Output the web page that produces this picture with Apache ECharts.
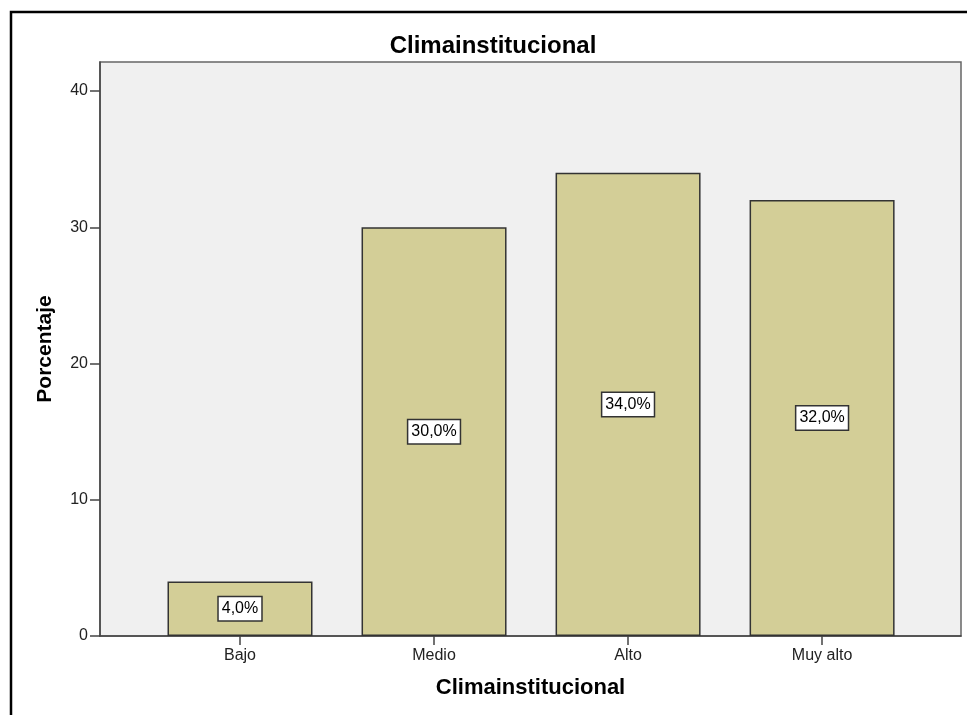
<!DOCTYPE html>
<html>
<head>
<meta charset="utf-8">
<script src="https://cdn.jsdelivr.net/npm/echarts@6/dist/echarts.min.js"></script>
<style>
html,body{margin:0;padding:0;background:#fff;}
#chart{width:967px;height:715px;}
</style>
</head>
<body>
<div id="chart"></div>
<script>
const chartTitle = 'Climainstitucional';
const xAxisTitle = 'Climainstitucional';
const yAxisTitle = 'Porcentaje';
const categories = ['Bajo', 'Medio', 'Alto', 'Muy alto'];
const percentages = [4.0, 30.0, 34.0, 32.0];
const yTicks = [0, 10, 20, 30, 40];

const positions = categories.map((c, i) => i);
const fontFamily = '"Liberation Sans", Arial, sans-serif';

const chart = echarts.init(document.getElementById('chart'), null, {renderer: 'canvas'});
chart.setOption({
  animation: false,
  backgroundColor: '#ffffff',
  title: {
    text: chartTitle,
    left: 488,
    textAlign: 'center',
    top: 29,
    textStyle: {fontFamily, fontSize: 24, fontWeight: 'bold', color: '#000'}
  },
  graphic: [{
    type: 'rect',
    shape: {x: 11, y: 12, width: 1200, height: 1200},
    style: {fill: 'none', stroke: '#000', lineWidth: 2.5},
    silent: true
  }],
  grid: {
    left: 100, top: 62, right: 6, bottom: 79,
    show: true,
    backgroundColor: '#f0f0f0',
    borderColor: '#666',
    borderWidth: 1.5
  },
  xAxis: {
    type: 'value',
    min: -0.7216,
    max: 3.716,
    splitLine: {show: false},
    axisLine: {show: true, onZero: false, lineStyle: {color: '#444', width: 1.5}},
    axisTick: {show: true, length: 9, customValues: positions, lineStyle: {color: '#444', width: 1.5}},
    axisLabel: {
      customValues: positions,
      margin: 12,
      fontFamily, fontSize: 16, color: '#222',
      formatter: v => categories[Math.round(v)] || ''
    },
    name: xAxisTitle,
    nameLocation: 'middle',
    nameGap: 41,
    nameTextStyle: {fontFamily, fontSize: 22, fontWeight: 'bold', color: '#000'}
  },
  yAxis: {
    type: 'value',
    min: 0,
    max: 42.13,
    splitLine: {show: false},
    axisLine: {show: true, onZero: false, lineStyle: {color: '#444', width: 1.5}},
    axisTick: {show: true, length: 10, customValues: yTicks, lineStyle: {color: '#444', width: 1.5}},
    axisLabel: {
      customValues: yTicks,
      margin: 12,
      fontFamily, fontSize: 16, color: '#222'
    },
    name: yAxisTitle,
    nameLocation: 'middle',
    nameGap: 44,
    nameTextStyle: {fontFamily, fontSize: 21, fontWeight: 'bold', color: '#000'}
  },
  series: [{
    type: 'bar',
    data: positions.map(i => [i, percentages[i]]),
    barWidth: 145,
    itemStyle: {color: '#d3ce97', borderColor: '#333', borderWidth: 1.5},
    label: {
      show: true,
      position: 'inside',
      formatter: p => p.value[1].toFixed(1).replace('.', ',') + '%',
      fontFamily, fontSize: 16, color: '#000',
      backgroundColor: '#fff',
      borderColor: '#333',
      borderWidth: 1.5,
      padding: [4, 3, 3, 3]
    }
  }]
});
</script>
</body>
</html>
